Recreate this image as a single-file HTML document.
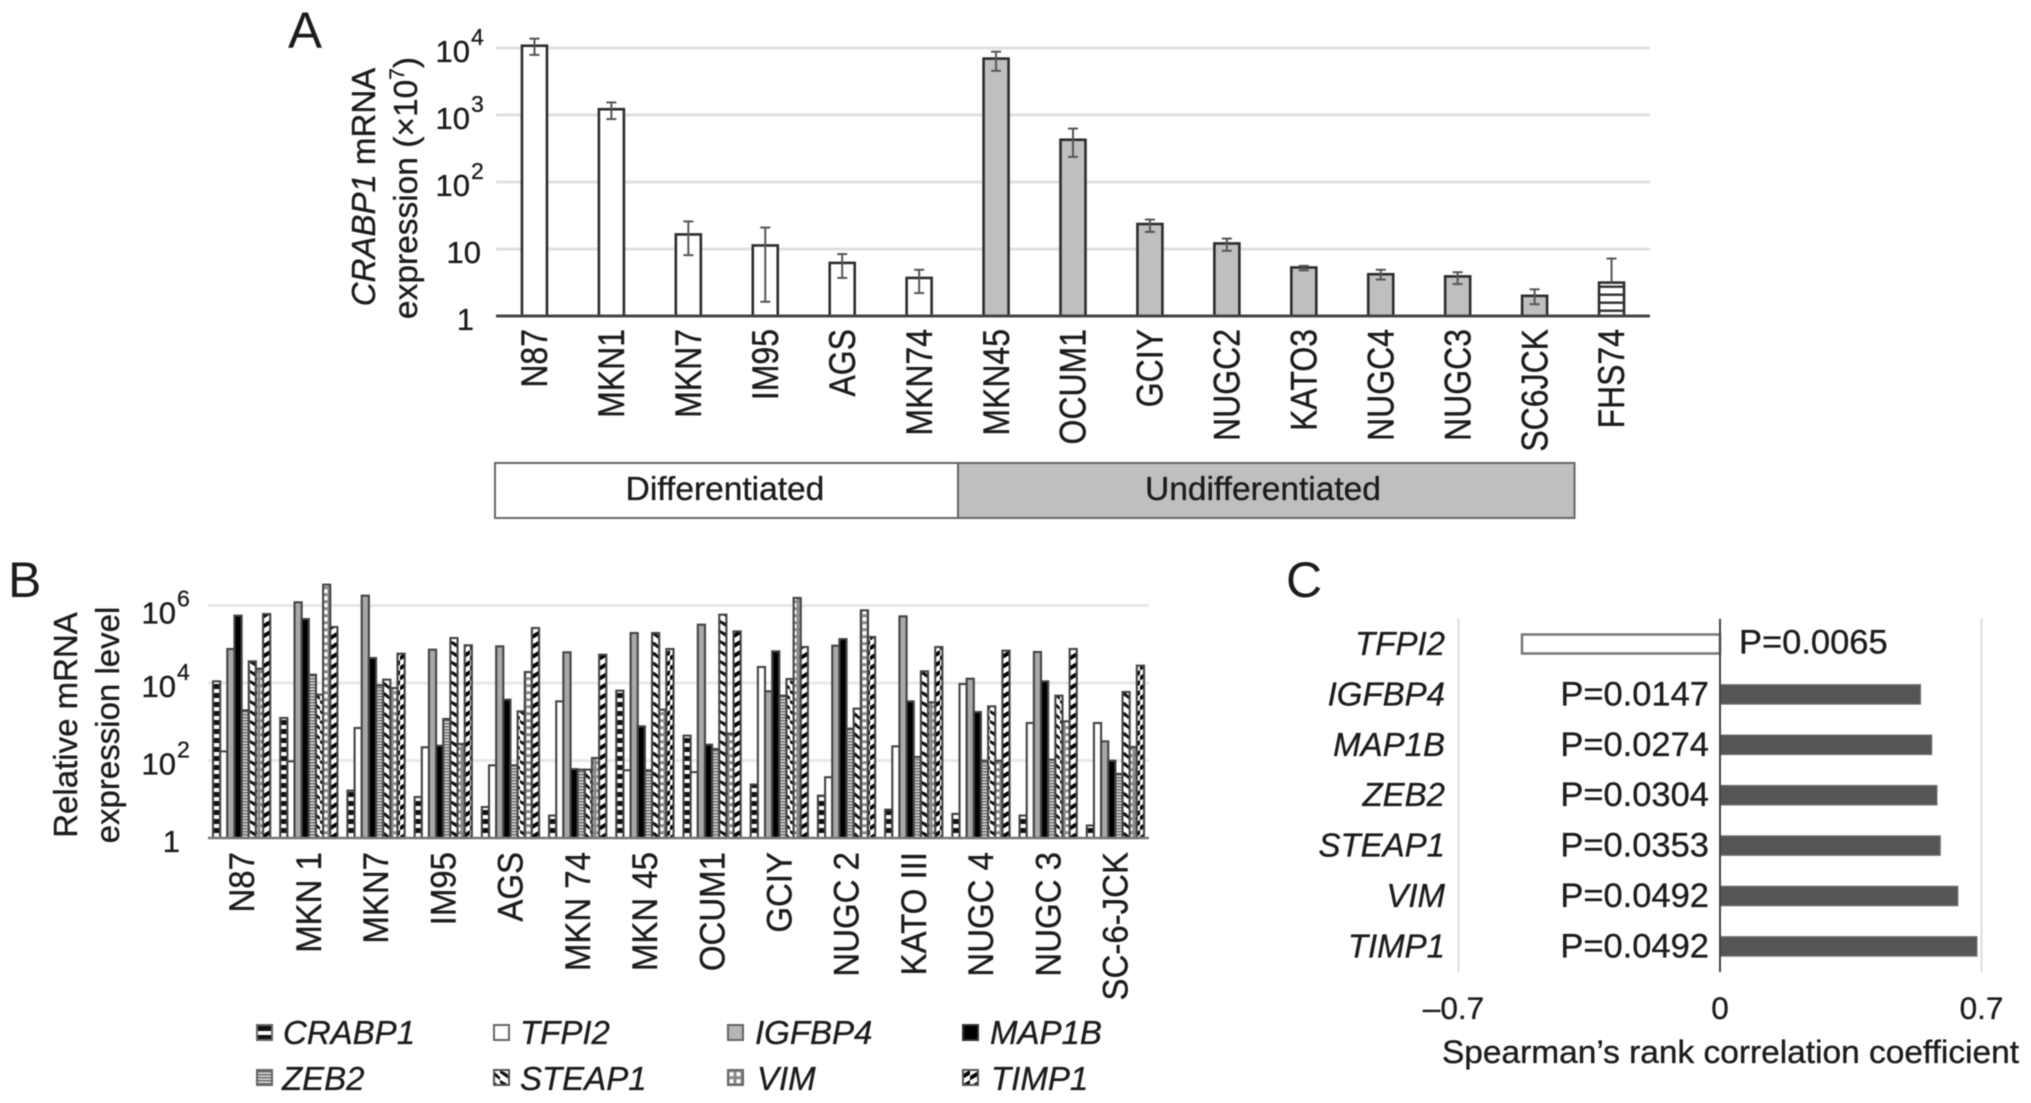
<!DOCTYPE html>
<html lang="en">
<head>
<meta charset="utf-8">
<title>CRABP1 expression figure</title>
<style>
html,body{margin:0;padding:0;background:#fff;}
svg{display:block;filter:blur(.6px);}
text{font-family:"Liberation Sans",sans-serif;fill:#1c1c1c;stroke:#1c1c1c;stroke-width:.35px;}
.it{font-style:italic;}
</style>
</head>
<body>
<svg id="fig" xmlns="http://www.w3.org/2000/svg" width="2031" height="1103" viewBox="0 0 2031 1103">
<defs>
<pattern id="p-stripes" width="8" height="8" patternUnits="userSpaceOnUse"><rect width="8" height="8" fill="#fff"/><rect y="5.5" width="8" height="2.4" fill="#333"/></pattern>
<pattern id="p-crabp" width="9" height="9" patternUnits="userSpaceOnUse"><rect width="9" height="9" fill="#fff"/><rect y="0" width="9" height="5" fill="#111"/></pattern>
<pattern id="p-zeb" width="3" height="3" patternUnits="userSpaceOnUse"><rect width="3" height="3" fill="#d8d8d8"/><rect y="0" width="3" height="1.4" fill="#666"/></pattern>
<pattern id="p-steap" width="10" height="10" patternUnits="userSpaceOnUse"><rect width="10" height="10" fill="#fff"/><path d="M-2 -1 L6 3 L12 9 L12 11 L6 6 L-2 2 Z" fill="#111"/><path d="M0 0 L10 7 L10 10 L0 3 Z" fill="#111"/></pattern>
<pattern id="p-vim" width="7" height="7" patternUnits="userSpaceOnUse"><rect width="7" height="7" fill="#8a8a8a"/><rect x="1.5" y="1.2" width="4" height="4" fill="#fff"/></pattern>
<pattern id="p-timp" width="10" height="10" patternUnits="userSpaceOnUse"><rect width="10" height="10" fill="#fff"/><path d="M0 6 L10 0 L10 4.6 L0 10.5 Z" fill="#000"/></pattern>
</defs>

<text x="288" y="48" font-size="51" style="stroke-width:0">A</text>
<text x="8" y="597" font-size="50" style="stroke-width:0">B</text>
<text x="1286" y="597" font-size="50" style="stroke-width:0">C</text>

<text transform="translate(375 187) rotate(-90)" text-anchor="middle" font-size="33"><tspan class="it">CRABP1</tspan> mRNA</text>
<text transform="translate(417 188) rotate(-90)" text-anchor="middle" font-size="33.5">expression (×10<tspan font-size="21" dy="-13">7</tspan><tspan dy="13">)</tspan></text>

<rect x="495" y="463" width="463" height="55" fill="#fff" stroke="#666" stroke-width="2"/>
<rect x="958" y="463" width="616.5" height="55" fill="#bfbfbf" stroke="#666" stroke-width="2"/>
<text x="725" y="500" text-anchor="middle" font-size="33.5">Differentiated</text>
<text x="1263" y="500" text-anchor="middle" font-size="33.5">Undifferentiated</text>

<text transform="translate(77 725) rotate(-90)" text-anchor="middle" font-size="33">Relative mRNA</text>
<text transform="translate(119 725) rotate(-90)" text-anchor="middle" font-size="33">expression level</text>

<g>
<rect x="257" y="1025" width="15" height="15" fill="url(#p-crabp)" stroke="#666" stroke-width="2"/>
<text class="it" x="283" y="1044" font-size="33">CRABP1</text>
<rect x="494" y="1025" width="15" height="15" fill="#fff" stroke="#666" stroke-width="2"/>
<text class="it" x="520" y="1044" font-size="33">TFPI2</text>
<rect x="728" y="1025" width="15" height="15" fill="#b5b5b5" stroke="#666" stroke-width="2"/>
<text class="it" x="755" y="1044" font-size="33">IGFBP4</text>
<rect x="963" y="1025" width="15" height="15" fill="#000" stroke="#333" stroke-width="2"/>
<text class="it" x="990" y="1044" font-size="33">MAP1B</text>
<rect x="257" y="1070" width="15" height="15" fill="url(#p-zeb)" stroke="#666" stroke-width="2"/>
<text class="it" x="282" y="1090" font-size="33">ZEB2</text>
<rect x="494" y="1070" width="15" height="15" fill="url(#p-steap)" stroke="#555" stroke-width="2"/>
<text class="it" x="520" y="1090" font-size="33">STEAP1</text>
<rect x="728" y="1070" width="15" height="15" fill="url(#p-vim)" stroke="#666" stroke-width="2"/>
<text class="it" x="757" y="1090" font-size="33">VIM</text>
<rect x="963" y="1070" width="15" height="15" fill="url(#p-timp)" stroke="#555" stroke-width="2"/>
<text class="it" x="991" y="1090" font-size="33">TIMP1</text>
</g>

<text x="1442" y="1063" font-size="32" textLength="577" lengthAdjust="spacingAndGlyphs">Spearman’s rank correlation coefficient</text>
</svg>

<script>
// Panel A data
const cellLinesA = ['N87','MKN1','MKN7','IM95','AGS','MKN74','MKN45','OCUM1','GCIY','NUGC2','KATO3','NUGC4','NUGC3','SC6JCK','FHS74'];
const expressionA = [10800,1220,16.5,11.3,6.2,3.7,6950,427,23.6,12.1,5.3,4.2,3.9,2,3.15];
const errHighA = [13800,1540,25.8,20.9,8.4,4.9,8800,627,27.5,14.3,5.6,4.9,4.5,2.5,7.2];
const errLowA = [7900,870,8.1,1.63,3.7,2.2,4570,237,18,9.4,4.8,3.5,3,1.5,3.15];
const groupA = ['diff','diff','diff','diff','diff','diff','undiff','undiff','undiff','undiff','undiff','undiff','undiff','undiff','normal'];
const tickExpA = [0,1,2,3,4];

// Panel B data
const cellLinesB = ['N87','MKN 1','MKN7','IM95','AGS','MKN 74','MKN 45','OCUM1','GCIY','NUGC 2','KATO III','NUGC 4','NUGC 3','SC-6-JCK'];
const crabp1 = [11040,1250,16.7,11.4,6.3,3.8,6340,437,24,12.4,5.4,4.2,3.8,2.1];
const tfpi2 = [172,95,690,219,75,3360,56,50,25900,37,232,9420,929,929];
const igfbp4 = [75400,1208000,1794000,72500,88300,61900,195000,320000,6100,91900,525000,12900,63100,312];
const map1b = [547000,448000,44200,241,3716,60,762,256,65600,136000,3360,1785,11040,99];
const zeb2 = [1970,16400,8700,1180,75,58,56,198,4710,663,123,99,105,45];
const steap1 = [36200,5000,12200,145000,1857,58,195000,580000,12700,2180,20000,2500,4710,5860];
const vim = [23400,3450000,7430,267,19200,116,2050,492,1563000,750000,3170,99,1026,223];
const timp1 = [604000,279000,57100,93800,262000,53800,75400,215000,84900,154000,84900,68300,75400,28000];
const seriesNamesB = ['crabp1','tfpi2','igfbp4','map1b','zeb2','steap1','vim','timp1'];
const seriesB = [crabp1,tfpi2,igfbp4,map1b,zeb2,steap1,vim,timp1];
const tickExpB = [0,2,4,6];

// Panel C data
const genesC = ['TFPI2','IGFBP4','MAP1B','ZEB2','STEAP1','VIM','TIMP1'];
const spearmanC = [-0.53,0.536,0.566,0.58,0.589,0.636,0.687];
const pValuesC = ['P=0.0065','P=0.0147','P=0.0274','P=0.0304','P=0.0353','P=0.0492','P=0.0492'];
const ticksC = [-0.7,0,0.7];
const tickLabelsC = ['\u20130.7','0','0.7'];

const NS = 'http://www.w3.org/2000/svg';
const fig = document.getElementById('fig');
function make(tag, attrs, parent) {
  const n = document.createElementNS(NS, tag);
  for (const k in attrs) n.setAttribute(k, attrs[k]);
  (parent || fig).appendChild(n);
  return n;
}
function label(str, attrs) {
  const n = make('text', attrs);
  n.textContent = str;
  return n;
}

// ---------- Panel A ----------
const aLeft = 496, aRight = 1650, aBase = 316, aDecade = 67;
const aBand = (aRight - aLeft) / cellLinesA.length;
const aX = i => aLeft + aBand * (i + 0.5);
const aY = v => aBase - aDecade * Math.log10(v);
const aBarW = 25;

tickExpA.forEach(e => {
  const v = Math.pow(10, e);
  if (e > 0) {
    const g = make('line', {x1: aLeft, x2: aRight, y1: aY(v), y2: aY(v), stroke: '#e0e0e0', 'stroke-width': 3});
    
    
  }
  const anchorX = e === 0 ? 474 : (e === 1 ? 481 : 470);
  const t = label(e === 0 ? '1' : '10', {x: anchorX, y: aY(v) + 14, 'text-anchor': 'end', 'font-size': 31});
  
  
  if (e > 1) {
    const s = make('text', {x: anchorX + 1, y: aY(v) - 3, 'font-size': 23});
    s.textContent = String(e);
    
    
  }
});

cellLinesA.forEach((name, i) => {
  const fill = groupA[i] === 'diff' ? '#fff' : groupA[i] === 'undiff' ? '#bfbfbf' : 'url(#p-stripes)';
  const top = aY(expressionA[i]);
  const bar = make('rect', {x: aX(i) - aBarW / 2, y: top, width: aBarW, height: aBase - top, fill: fill, stroke: '#2c2c2c', 'stroke-width': 2.6});
  
  

  const hi = aY(errHighA[i]), lo = aY(errLowA[i]);
  const stem = make('line', {x1: aX(i), x2: aX(i), y1: hi, y2: lo, stroke: '#555', 'stroke-width': 2});
  
  
  const capHi = make('line', {x1: aX(i) - 5, x2: aX(i) + 5, y1: hi, y2: hi, stroke: '#555', 'stroke-width': 2});
  
  
  if (errLowA[i] < expressionA[i]) {
    const capLo = make('line', {x1: aX(i) - 5, x2: aX(i) + 5, y1: lo, y2: lo, stroke: '#555', 'stroke-width': 2});
    
    
  }

  const t = label(name, {transform: 'translate(' + (aX(i) + 12.7) + ' 329) rotate(-90) scale(1 1.15)', 'text-anchor': 'end', 'font-size': 32});
  
  
});
const aAxis = make('line', {x1: aLeft, x2: aRight, y1: aBase, y2: aBase, stroke: '#444', 'stroke-width': 3});



// ---------- Panel B ----------
const bLeft = 208, bRight = 1149, bBase = 838, bDecade = 38.75;
const bBand = (bRight - bLeft) / cellLinesB.length;
const bBarW = 7.15;
const bGroupStart = i => bLeft + bBand * i + (bBand - bBarW * seriesB.length) / 2;
const bY = v => bBase - bDecade * Math.log10(v);
const bFills = ['url(#p-crabp)','#fff','#a8a8a8','#000','url(#p-zeb)','url(#p-steap)','url(#p-vim)','url(#p-timp)'];

tickExpB.forEach(e => {
  const v = Math.pow(10, e);
  if (e > 0) {
    const g = make('line', {x1: bLeft, x2: bRight, y1: bY(v), y2: bY(v), stroke: '#e8e8e8', 'stroke-width': 3});
    
    
  }
  const anchorX = e === 0 ? 180 : 176;
  const t = label(e === 0 ? '1' : '10', {x: anchorX, y: bY(v) + (e === 6 ? 18 : 14), 'text-anchor': 'end', 'font-size': 31});
  
  
  if (e > 0) {
    const s = make('text', {x: anchorX + 1, y: bY(v) + (e === 6 ? 1 : -3), 'font-size': 23});
    s.textContent = String(e);
    
    
  }
});

cellLinesB.forEach((name, i) => {
  seriesB.forEach((values, s) => {
    const top = bY(values[i]);
    const bar = make('rect', {x: bGroupStart(i) + bBarW * s, y: top, width: bBarW, height: bBase - top, fill: bFills[s], stroke: '#444', 'stroke-width': 2.1});
    
    
  });
  const cx = bLeft + bBand * (i + 0.5);
  const t = label(name, {transform: 'translate(' + (cx + 12.2) + ' 852) rotate(-90) scale(1 1.08)', 'text-anchor': 'end', 'font-size': 33});
  
  
});
const bAxis = make('line', {x1: bLeft, x2: bRight, y1: bBase, y2: bBase, stroke: '#777', 'stroke-width': 2.5});



// ---------- Panel C ----------
const cZero = 1720, cUnit = 373.6, cTop = 618.8, cBand = 50.4;
const cX = v => cZero + cUnit * v;
const cY = i => cTop + cBand * (i + 0.5);
const cBarH = 19;

ticksC.forEach((v, i) => {
  if (v !== 0) {
    const g = make('line', {x1: cX(v), x2: cX(v), y1: cTop, y2: 972, stroke: '#ddd', 'stroke-width': 2});
    
    
  }
  const t = label(tickLabelsC[i], {x: cX(v) - (v < 0 ? 5 : 0), y: 1019, 'text-anchor': 'middle', 'font-size': 31.5});
  
  
});

genesC.forEach((gene, i) => {
  const v = spearmanC[i];
  const x = Math.min(cX(v), cZero);
  const w = Math.abs(cX(v) - cZero);
  const bar = make('rect', {x: x, y: cY(i) - cBarH / 2, width: w, height: cBarH, fill: v < 0 ? '#fff' : '#555', stroke: v < 0 ? '#777' : '#666', 'stroke-width': v < 0 ? 2.5 : 1.5});
  
  

  const g = label(gene, {x: 1445, y: cY(i) + 11, 'text-anchor': 'end', 'font-size': 33, 'font-style': 'italic'});
  
  

  const p = v < 0
    ? label(pValuesC[i], {x: 1739, y: cY(i) + 9.5, 'font-size': 34.5})
    : label(pValuesC[i], {x: 1709, y: cY(i) + 11, 'text-anchor': 'end', 'font-size': 34.5});
  
  
});
const cAxis = make('line', {x1: cZero, x2: cZero, y1: cTop, y2: 972, stroke: '#444', 'stroke-width': 2});


</script>
</body>
</html>
